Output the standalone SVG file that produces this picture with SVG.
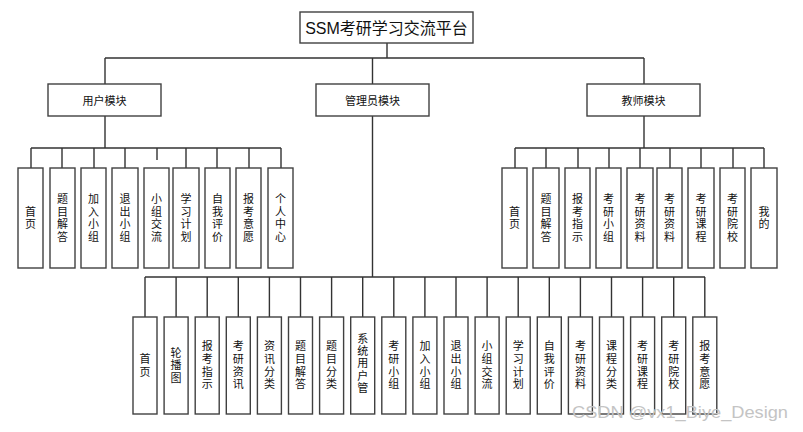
<svg xmlns="http://www.w3.org/2000/svg" width="803" height="432" viewBox="0 0 803 432">
<defs>
<style>
.bx{fill:#fff;stroke:#404040;stroke-width:1.4}
.ln{fill:none;stroke:#333;stroke-width:1.4}
.t{font-family:"Noto Sans CJK SC","Liberation Sans",sans-serif;font-size:11px;fill:#111;text-anchor:middle;dominant-baseline:central}
.v{font-family:"Noto Sans CJK SC","Liberation Sans",sans-serif;font-size:11px;fill:#111;text-anchor:middle;writing-mode:vertical-rl;letter-spacing:1.7px}
.v5{letter-spacing:1.4px}
.tt{font-family:"Liberation Sans","Noto Sans CJK SC",sans-serif;font-size:16px;fill:#111;text-anchor:middle;dominant-baseline:central}
.wm{font-family:"Liberation Sans",sans-serif;font-size:17px;fill:#c4c4c4}
</style>
</defs>
<rect width="803" height="432" fill="#fff"/>
<g id="connectors" class="ln">
<path d="M387 43V58M105 58H644M105 58V84M372.5 58V84M644 58V84"/>
<path d="M105 116V148M31 148H281M31 148V168M62 148V168M94 148V168M125 148V168M157 148V160M186 148V168M217 148V168M249 148V168M281 148V168"/>
<path d="M644 116V148M515 148H764M515 148V168M546 148V168M578 148V168M609 148V168M640 148V168M670 148V168M701 148V168M733 148V168M764 148V168"/>
<path d="M372.5 116V277M145 277H705"/>
<path d="M145 277V317M176.1 277V317M207.2 277V317M238.3 277V317M269.4 277V317M300.5 277V317M331.6 277V317M362.7 277V317M393.8 277V317M424.9 277V317M456 277V317M487.1 277V317M518.2 277V317M549.3 277V317M580.4 277V317M611.5 277V317M642.6 277V317M673.7 277V317M704.8 277V317"/>
</g>
<g id="root"><rect class="bx" x="300" y="12" width="173" height="31"/><text class="tt" x="386.5" y="28">SSM考研学习交流平台</text></g>
<g id="user"><rect class="bx" x="48" y="84" width="113" height="32"/><text class="t" x="104.5" y="100">用户模块</text></g>
<g id="admin"><rect class="bx" x="316" y="84" width="113" height="32"/><text class="t" x="372.5" y="100">管理员模块</text></g>
<g id="teacher"><rect class="bx" x="587" y="84" width="113" height="32"/><text class="t" x="643.5" y="100">教师模块</text></g>

<g id="u1"><rect class="bx" x="18" y="168" width="25" height="100"/><text class="v" x="30.5" y="218.8">首页</text></g>
<g id="u2"><rect class="bx" x="50" y="168" width="25" height="100"/><text class="v" x="62.5" y="218.8">题目解答</text></g>
<g id="u3"><rect class="bx" x="81" y="168" width="25" height="100"/><text class="v" x="93.5" y="218.8">加入小组</text></g>
<g id="u4"><rect class="bx" x="112" y="168" width="26" height="100"/><text class="v" x="125" y="218.8">退出小组</text></g>
<g id="u5"><rect class="bx" x="144" y="168" width="25" height="100"/><text class="v" x="156.5" y="218.8">小组交流</text></g>
<g id="u6"><rect class="bx" x="173" y="168" width="26" height="100"/><text class="v" x="186" y="218.8">学习计划</text></g>
<g id="u7"><rect class="bx" x="205" y="168" width="25" height="100"/><text class="v" x="217.5" y="218.8">自我评价</text></g>
<g id="u8"><rect class="bx" x="236" y="168" width="25" height="100"/><text class="v" x="248.5" y="218.8">报考意愿</text></g>
<g id="u9"><rect class="bx" x="268" y="168" width="25" height="100"/><text class="v" x="280.5" y="218.8">个人中心</text></g>

<g id="t1"><rect class="bx" x="502" y="168" width="25" height="100"/><text class="v" x="514.5" y="218.8">首页</text></g>
<g id="t2"><rect class="bx" x="533" y="168" width="26" height="100"/><text class="v" x="546" y="218.8">题目解答</text></g>
<g id="t3"><rect class="bx" x="565" y="168" width="25" height="100"/><text class="v" x="577.5" y="218.8">报考指示</text></g>
<g id="t4"><rect class="bx" x="596" y="168" width="25" height="100"/><text class="v" x="608.5" y="218.8">考研小组</text></g>
<g id="t5"><rect class="bx" x="627" y="168" width="26" height="100"/><text class="v" x="640" y="218.8">考研资料</text></g>
<g id="t6"><rect class="bx" x="657" y="168" width="25" height="100"/><text class="v" x="669.5" y="218.8">考研资料</text></g>
<g id="t7"><rect class="bx" x="688" y="168" width="26" height="100"/><text class="v" x="701" y="218.8">考研课程</text></g>
<g id="t8"><rect class="bx" x="720" y="168" width="25" height="100"/><text class="v" x="732.5" y="218.8">考研院校</text></g>
<g id="t9"><rect class="bx" x="751" y="168" width="26" height="100"/><text class="v" x="764" y="218.8">我的</text></g>

<g id="a1"><rect class="bx" x="133" y="317" width="24" height="97"/><text class="v" x="145" y="366">首页</text></g>
<g id="a2"><rect class="bx" x="164.1" y="317" width="24" height="97"/><text class="v" x="176.1" y="366">轮播图</text></g>
<g id="a3"><rect class="bx" x="195.2" y="317" width="24" height="97"/><text class="v" x="207.2" y="366">报考指示</text></g>
<g id="a4"><rect class="bx" x="226.3" y="317" width="24" height="97"/><text class="v" x="238.3" y="366">考研资讯</text></g>
<g id="a5"><rect class="bx" x="257.4" y="317" width="24" height="97"/><text class="v" x="269.4" y="366">资讯分类</text></g>
<g id="a6"><rect class="bx" x="288.5" y="317" width="24" height="97"/><text class="v" x="300.5" y="366">题目解答</text></g>
<g id="a7"><rect class="bx" x="319.6" y="317" width="24" height="97"/><text class="v" x="331.6" y="366">题目分类</text></g>
<g id="a8"><rect class="bx" x="350.7" y="317" width="24" height="97"/><text class="v v5" x="362.7" y="364">系统用户管</text></g>
<g id="a9"><rect class="bx" x="381.8" y="317" width="24" height="97"/><text class="v" x="393.8" y="366">考研小组</text></g>
<g id="a10"><rect class="bx" x="412.9" y="317" width="24" height="97"/><text class="v" x="424.9" y="366">加入小组</text></g>
<g id="a11"><rect class="bx" x="444" y="317" width="24" height="97"/><text class="v" x="456" y="366">退出小组</text></g>
<g id="a12"><rect class="bx" x="475.1" y="317" width="24" height="97"/><text class="v" x="487.1" y="366">小组交流</text></g>
<g id="a13"><rect class="bx" x="506.2" y="317" width="24" height="97"/><text class="v" x="518.2" y="366">学习计划</text></g>
<g id="a14"><rect class="bx" x="537.3" y="317" width="24" height="97"/><text class="v" x="549.3" y="366">自我评价</text></g>
<g id="a15"><rect class="bx" x="568.4" y="317" width="24" height="97"/><text class="v" x="580.4" y="366">考研资料</text></g>
<g id="a16"><rect class="bx" x="599.5" y="317" width="24" height="97"/><text class="v" x="611.5" y="366">课程分类</text></g>
<g id="a17"><rect class="bx" x="630.6" y="317" width="24" height="97"/><text class="v" x="642.6" y="366">考研课程</text></g>
<g id="a18"><rect class="bx" x="661.7" y="317" width="24" height="97"/><text class="v" x="673.7" y="366">考研院校</text></g>
<g id="a19"><rect class="bx" x="692.8" y="317" width="24" height="97"/><text class="v" x="704.8" y="366">报考意愿</text></g>

<text class="wm" x="572" y="418" textLength="216" lengthAdjust="spacingAndGlyphs">CSDN @vx1_Biye_Design</text>
</svg>
